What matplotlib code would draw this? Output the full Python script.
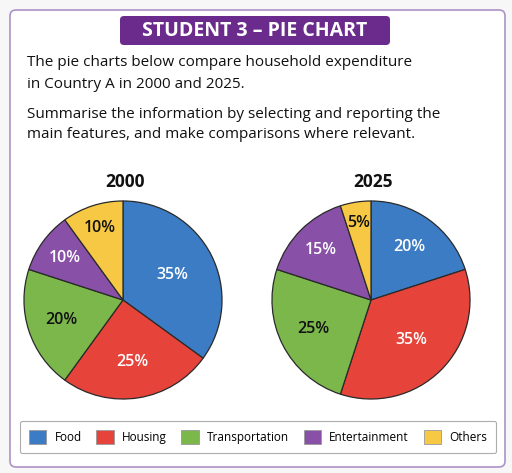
import matplotlib
matplotlib.use("Agg")
import numpy as np
import matplotlib.pyplot as plt
from matplotlib.patches import FancyBboxPatch, Patch

plt.rcParams['font.family'] = ['Open Sans', 'DejaVu Sans']

categories = ['Food', 'Housing', 'Transportation', 'Entertainment', 'Others']
share_2000 = [35, 25, 20, 10, 10]
share_2025 = [20, 35, 25, 15, 5]
years = ['2000', '2025']
colors = ['#3b7cc4', '#e6433a', '#7bb74b', '#8850a6', '#f6c843']
label_colors = ['white', 'white', '#111111', 'white', '#111111']
# how far out each percentage label sits (fraction of radius)
label_r_2000 = [0.56, 0.63, 0.66, 0.73, 0.76]
label_r_2025 = [0.66, 0.57, 0.65, 0.71, 0.79]

W, H = 512, 473
fig = plt.figure(figsize=(W / 100, H / 100), dpi=100)
fig.patch.set_facecolor('#f7f7f7')


def box(x0, y0, x1, y1):
    # pixel box (top-left origin) -> figure fraction rect
    return [x0 / W, 1 - y1 / H, (x1 - x0) / W, (y1 - y0) / H]


def fx(x):
    return x / W


def fy(y):
    return 1 - y / H


# outer card
fig.patches.append(FancyBboxPatch((fx(10), fy(467)), fx(495), (457) / H,
                                  boxstyle='round,pad=0,rounding_size=0.012',
                                  transform=fig.transFigure, fc='white',
                                  ec='#ad93c6', lw=1.2, zorder=-5))
# title badge
fig.patches.append(FancyBboxPatch((fx(120), fy(45)), fx(270), 29 / H,
                                  boxstyle='round,pad=0,rounding_size=0.008',
                                  transform=fig.transFigure, fc='#6b2b8c',
                                  ec='none', zorder=-4))
fig.text(fx(255), fy(30.5), 'STUDENT 3 \u2013 PIE CHART', color='white',
         fontsize=14, fontweight='bold', ha='center', va='center')

lines = ['The pie charts below compare household expenditure',
         'in Country A in 2000 and 2025.',
         'Summarise the information by selecting and reporting the',
         'main features, and make comparisons where relevant.']
for txt, y in zip(lines, [63, 84, 114, 135]):
    fig.text(fx(27), fy(y), txt, fontsize=11, color='#111111',
             ha='left', va='center')

centers = [123, 371]
for cx, yr, vals, radii in zip(centers, years, [share_2000, share_2025],
                               [label_r_2000, label_r_2025]):
    ax = fig.add_axes(box(cx - 101, 199, cx + 101, 401))
    ax.patch.set_alpha(0)
    wedges, texts = ax.pie(vals, colors=colors, startangle=90,
                           counterclock=False, radius=1.0,
                           labels=[f'{v}%' for v in vals], labeldistance=0.6,
                           wedgeprops=dict(edgecolor='#2a2a2a', linewidth=0.9))
    for w, t, c, r in zip(wedges, texts, label_colors, radii):
        mid = np.radians((w.theta1 + w.theta2) / 2)
        t.set_position((r * np.cos(mid), r * np.sin(mid)))
        t.set_color(c)
        t.set_fontsize(11.5)
        t.set_fontweight('semibold')
        t.set_ha('center')
        t.set_va('center')
    ax.set_xlim(-1.02, 1.02)
    ax.set_ylim(-1.02, 1.02)
    ax.set_aspect('equal')
    fig.text(fx(cx + 2), fy(182), yr, fontsize=12.5, fontweight='bold',
             ha='center', va='center', color='#111111')

# legend
handles = [Patch(facecolor=c, edgecolor='#999999', lw=0.6) for c in colors]
leg = fig.legend(handles, categories, loc='center',
                 bbox_to_anchor=(fx(258), fy(437)), ncol=5,
                 fontsize=8.5, frameon=True, fancybox=True,
                 handlelength=1.45, handleheight=1.45, handletextpad=0.7,
                 columnspacing=1.25, borderpad=0.8)
leg.get_frame().set_edgecolor('#999999')
leg.get_frame().set_linewidth(0.8)

fig.savefig('out.png', dpi=100, facecolor=fig.get_facecolor())
